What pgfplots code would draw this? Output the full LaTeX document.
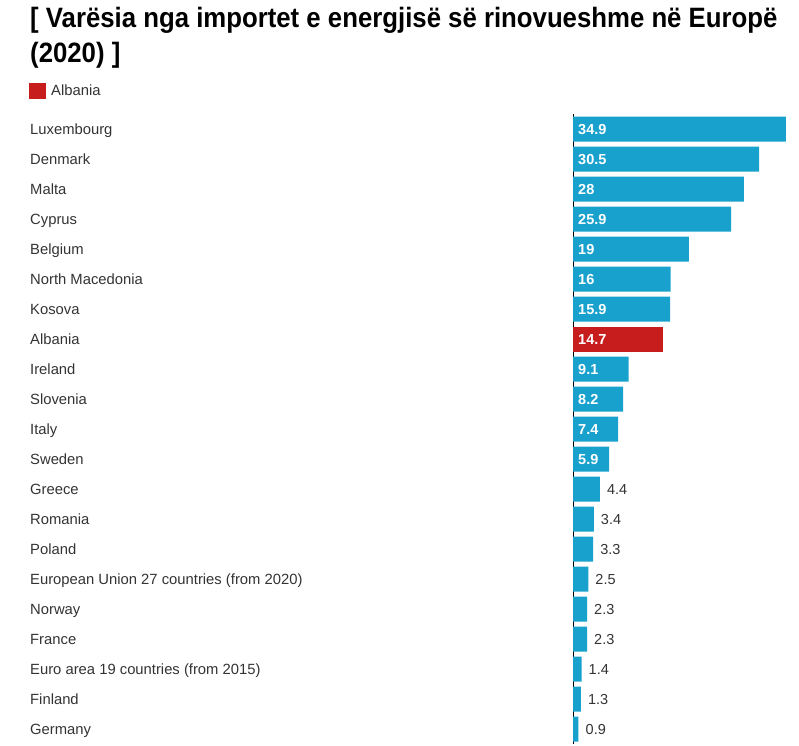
\documentclass[border=0pt]{standalone}
\usepackage{fontspec}
\setmainfont{Liberation Sans}
\newfontfamily\titlefont{Liberation Sans}[FakeStretch=0.92]
\usepackage{pgfplots}
\usepackage{pgfplotstable}
\pgfplotsset{compat=1.18}

\definecolor{dwblue}{HTML}{18A1CD}
\definecolor{dwred}{HTML}{C71E1D}
\definecolor{labelgray}{HTML}{333333}

% bars with the value written inside (blue)
\pgfplotstableread{
idx val lbl
0 34.9 34.9
1 30.5 30.5
2 28 28
3 25.9 25.9
4 19 19
5 16 16
6 15.9 15.9
8 9.1 9.1
9 8.2 8.2
10 7.4 7.4
11 5.9 5.9
}\insidetab

% Albania
\pgfplotstableread{
idx val lbl
7 14.7 14.7
}\redtab

% bars with the value written outside
\pgfplotstableread{
idx val lbl
12 4.4 4.4
13 3.4 3.4
14 3.3 3.3
15 2.5 2.5
16 2.3 2.3
17 2.3 2.3
18 1.4 1.4
19 1.3 1.3
20 0.9 0.9
}\outsidetab

\newcommand\lblfont{\fontsize{14.5}{17}\selectfont}
\newcommand\tickfont{\fontsize{14.8}{17}\selectfont}

\begin{document}
\begin{tikzpicture}[x=1pt,y=1pt]
\path[use as bounding box] (0,0) rectangle (799,745);

\node[anchor=base west, inner sep=0pt, font=\titlefont\fontsize{28}{34}\selectfont\bfseries]
  at (30,717) {[ Varësia nga importet e energjisë së rinovueshme në Europë};
\node[anchor=base west, inner sep=0pt, font=\titlefont\fontsize{28}{34}\selectfont\bfseries]
  at (30,682) {(2020) ]};

\begin{axis}[
  at={(573pt,1pt)}, anchor=south west,
  scale only axis, width=213.6pt, height=630pt,
  xmin=0, xmax=35, ymin=-0.5, ymax=20.5, y dir=reverse,
  axis x line=none, axis y line*=left,
  y axis line style={-, black, line width=1pt},
  ytick={0,...,20},
  yticklabels={Luxembourg, Denmark, Malta, Cyprus, Belgium, North Macedonia,
    Kosova, Albania, Ireland, Slovenia, Italy, Sweden, Greece, Romania, Poland,
    {European Union 27 countries (from 2020)}, Norway, France,
    {Euro area 19 countries (from 2015)}, Finland, Germany},
  major tick length=0pt,
  yticklabel style={anchor=west, inner sep=0pt, xshift=-543pt,
    text height=10.6pt, text depth=0pt,
    font=\tickfont, text=labelgray},
  bar width=25pt,
  clip=false,
  legend style={at={(axis description cs:-2.5468,1.0365)}, anchor=west,
    draw=none, fill=none, inner sep=0pt, font=\tickfont, text=labelgray},
  legend cell align=left,
]
\addplot[xbar, bar shift=0pt, fill=dwblue, draw=none, forget plot]
  table[x=val, y=idx] {\insidetab};
\addplot[xbar, bar shift=0pt, fill=dwred, draw=none,
  legend image code/.code={\fill[dwred] (0pt,-8pt) rectangle (17pt,8pt);
    \path (20pt,0pt);}]
  table[x=val, y=idx] {\redtab};
\addlegendentry{Albania}
\addplot[xbar, bar shift=0pt, fill=dwblue, draw=none, forget plot,
  nodes near coords, point meta=explicit symbolic,
  nodes near coords style={anchor=west, xshift=7pt, inner sep=0pt,
    text height=10.4pt, text depth=0pt,
    font=\lblfont, text=labelgray}]
  table[x=val, y=idx, meta=lbl] {\outsidetab};
% value labels inside the long bars
\addplot[draw=none, forget plot,
  nodes near coords, point meta=explicit symbolic,
  nodes near coords style={anchor=west, xshift=5pt, inner sep=0pt,
    text height=10.4pt, text depth=0pt,
    font=\lblfont\bfseries, text=white}]
  table[x expr=0, y=idx, meta=lbl] {\insidetab};
\addplot[draw=none, forget plot,
  nodes near coords, point meta=explicit symbolic,
  nodes near coords style={anchor=west, xshift=5pt, inner sep=0pt,
    text height=10.4pt, text depth=0pt,
    font=\lblfont\bfseries, text=white}]
  table[x expr=0, y=idx, meta=lbl] {\redtab};
\end{axis}
\end{tikzpicture}
\end{document}
